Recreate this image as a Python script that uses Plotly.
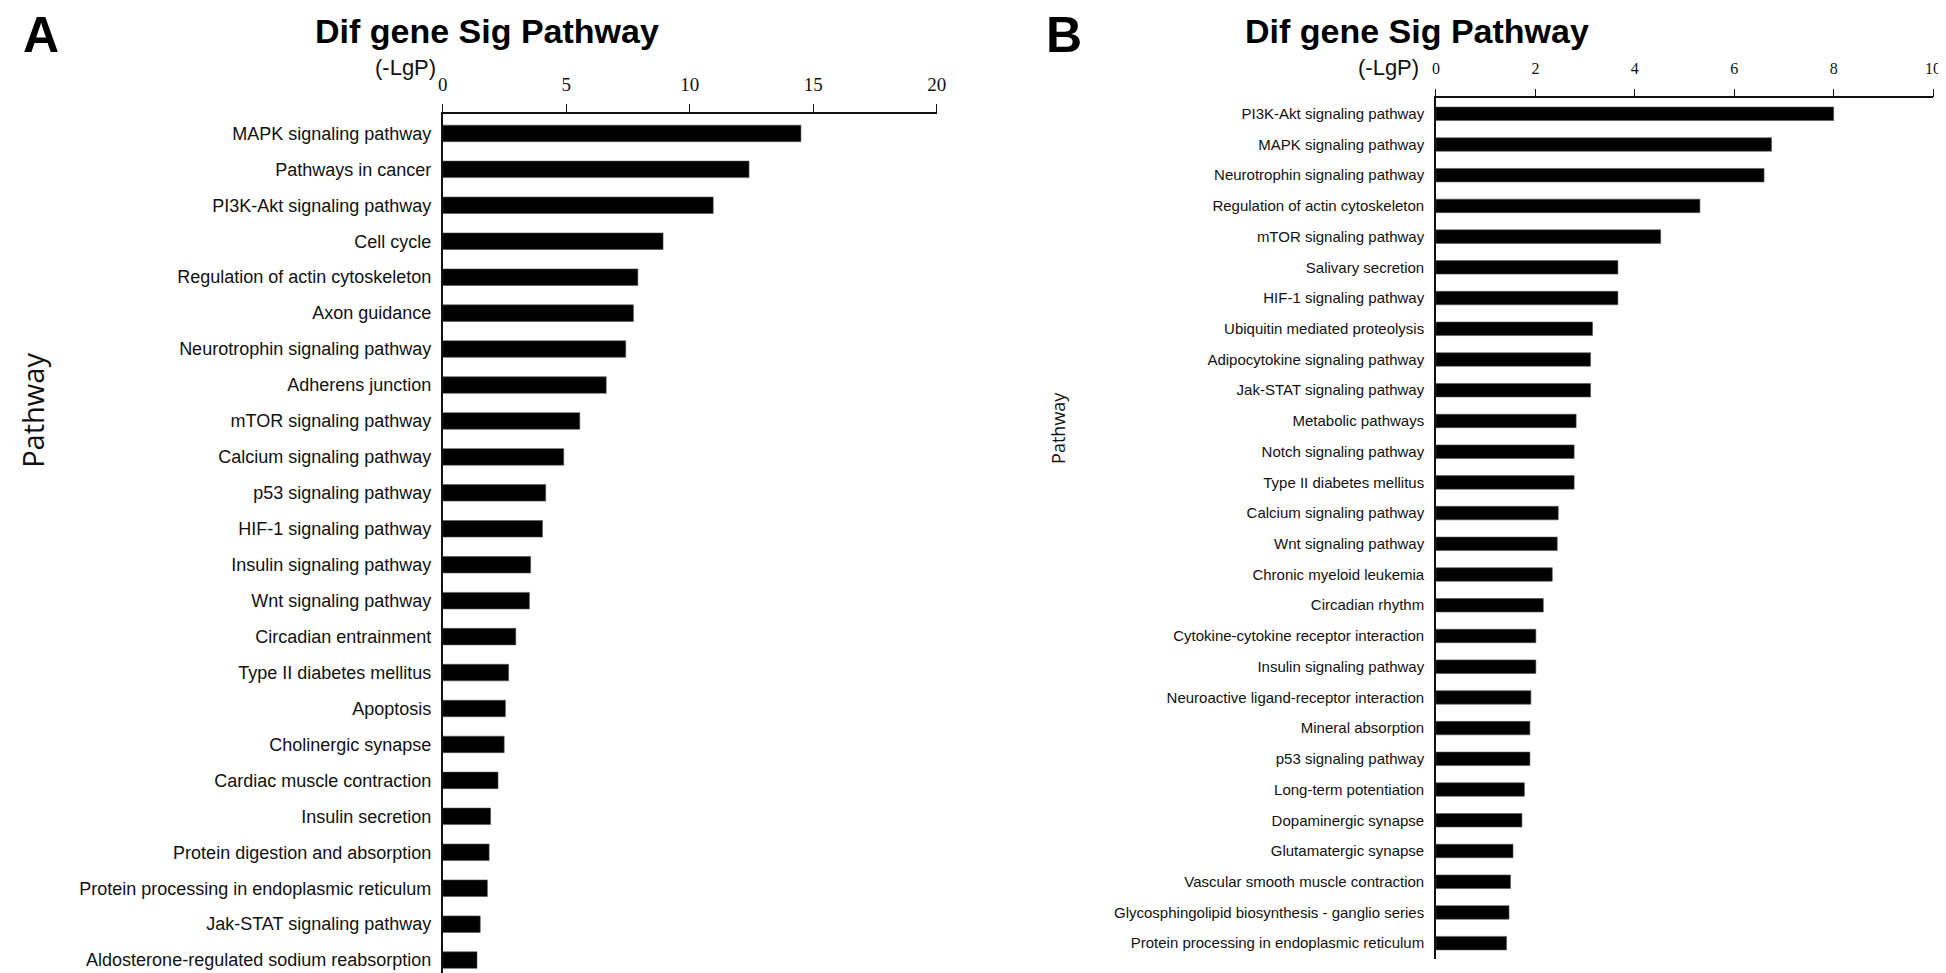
import plotly.graph_objects as go

W, H = 1946, 973

# ---------------- data ----------------
pathways_a = [
    "MAPK signaling pathway", "Pathways in cancer", "PI3K-Akt signaling pathway",
    "Cell cycle", "Regulation of actin cytoskeleton", "Axon guidance",
    "Neurotrophin signaling pathway", "Adherens junction", "mTOR signaling pathway",
    "Calcium signaling pathway", "p53 signaling pathway", "HIF-1 signaling pathway",
    "Insulin signaling pathway", "Wnt signaling pathway", "Circadian entrainment",
    "Type II diabetes mellitus", "Apoptosis", "Cholinergic synapse",
    "Cardiac muscle contraction", "Insulin secretion", "Protein digestion and absorption",
    "Protein processing in endoplasmic reticulum", "Jak-STAT signaling pathway",
    "Aldosterone-regulated sodium reabsorption",
]
lgp_a = [14.5, 12.4, 10.95, 8.92, 7.9, 7.72, 7.41, 6.62, 5.55, 4.9, 4.17, 4.04,
         3.56, 3.51, 2.96, 2.67, 2.54, 2.49, 2.24, 1.94, 1.88, 1.81, 1.52, 1.39]

pathways_b = [
    "PI3K-Akt signaling pathway", "MAPK signaling pathway", "Neurotrophin signaling pathway",
    "Regulation of actin cytoskeleton", "mTOR signaling pathway", "Salivary secretion",
    "HIF-1 signaling pathway", "Ubiquitin mediated proteolysis",
    "Adipocytokine signaling pathway", "Jak-STAT signaling pathway", "Metabolic pathways",
    "Notch signaling pathway", "Type II diabetes mellitus", "Calcium signaling pathway",
    "Wnt signaling pathway", "Chronic myeloid leukemia", "Circadian rhythm",
    "Cytokine-cytokine receptor interaction", "Insulin signaling pathway",
    "Neuroactive ligand-receptor interaction", "Mineral absorption", "p53 signaling pathway",
    "Long-term potentiation", "Dopaminergic synapse", "Glutamatergic synapse",
    "Vascular smooth muscle contraction", "Glycosphingolipid biosynthesis - ganglio series",
    "Protein processing in endoplasmic reticulum",
]
lgp_b = [8.0, 6.75, 6.6, 5.31, 4.52, 3.66, 3.66, 3.15, 3.11, 3.11, 2.82, 2.78, 2.78,
         2.46, 2.44, 2.34, 2.16, 2.01, 2.01, 1.91, 1.89, 1.89, 1.78, 1.73, 1.55, 1.50,
         1.47, 1.42]

ticks_a = [0, 5, 10, 15, 20]
ticks_b = [0, 2, 4, 6, 8, 10]

title_text = "Dif gene Sig Pathway"
xlabel_text = "(-LgP)"
ylabel_text = "Pathway"


def px(x):
    return x / W


def py(y):
    return 1 - y / H


fig = go.Figure()
fig.add_trace(go.Bar(x=lgp_a, y=pathways_a, orientation="h", xaxis="x", yaxis="y",
                     marker=dict(color="#000000", line=dict(color="#555555", width=0.6)),
                     width=0.46, showlegend=False))
fig.add_trace(go.Bar(x=lgp_b, y=pathways_b, orientation="h", xaxis="x2", yaxis="y2",
                     marker=dict(color="#000000", line=dict(color="#555555", width=0.6)),
                     width=0.44, showlegend=False))

sans = "Liberation Sans, Arial, sans-serif"
serif = "Liberation Serif, Times New Roman, serif"

common_x = dict(side="top", showline=True, linecolor="#111111", linewidth=1.5,
                ticks="outside", ticklen=8, tickwidth=1.3, tickcolor="#111111",
                showgrid=False, zeroline=False, fixedrange=True)
common_y = dict(showline=True, linecolor="#111111", linewidth=1.5, ticks="",
                showgrid=False, zeroline=False, type="category", fixedrange=True)

fig.update_layout(
    width=W, height=H,
    margin=dict(l=0, r=0, t=0, b=0),
    paper_bgcolor="white", plot_bgcolor="white",
    bargap=0.5,
    xaxis=dict(common_x, domain=[px(433), px(931)], range=[0, 20], tickvals=ticks_a,
               tickfont=dict(family=serif, size=19, color="#111111"),
               anchor="y", ticklabelstandoff=6),
    yaxis=dict(common_y, domain=[py(969), py(106)], range=[23.47, -0.54],
               tickfont=dict(family=sans, size=18, color="#111111"),
               anchor="x", ticklabelstandoff=6),
    xaxis2=dict(common_x, domain=[px(1434), px(1935)], range=[0, 10], tickvals=ticks_b,
                tickfont=dict(family=serif, size=16, color="#111111"),
                anchor="y2", ticklabelstandoff=8),
    yaxis2=dict(common_y, domain=[py(950.5), py(90.4)], range=[27.5, -0.5],
                tickfont=dict(family=sans, size=15, color="#111111"),
                anchor="x2", ticklabelstandoff=7),
)

ann = []
# panel letters
ann.append(dict(text="<b>A</b>", x=px(28), y=py(27), font=dict(family=sans, size=50, color="#000")))
ann.append(dict(text="<b>B</b>", x=px(1059), y=py(27), font=dict(family=sans, size=50, color="#000")))
# titles
ann.append(dict(text="<b>" + title_text + "</b>", x=px(478), y=py(23),
                font=dict(family=sans, size=34, color="#000")))
ann.append(dict(text="<b>" + title_text + "</b>", x=px(1415), y=py(23),
                font=dict(family=sans, size=34, color="#000")))
# axis unit labels
ann.append(dict(text=xlabel_text, x=px(396), y=py(60), font=dict(family=sans, size=22, color="#111")))
ann.append(dict(text=xlabel_text, x=px(1386), y=py(60), font=dict(family=sans, size=22, color="#111")))
# y labels
ann.append(dict(text=ylabel_text, x=px(19), y=py(402), textangle=-90,
                font=dict(family="Open Sans, sans-serif", size=29, color="#111")))
ann.append(dict(text=ylabel_text, x=px(1053), y=py(420), textangle=-90,
                font=dict(family="Open Sans, sans-serif", size=18, color="#111")))

for a in ann:
    a.update(xref="paper", yref="paper", showarrow=False, xanchor="center", yanchor="middle")
fig.update_layout(annotations=ann)

fig.write_html("out.html")
